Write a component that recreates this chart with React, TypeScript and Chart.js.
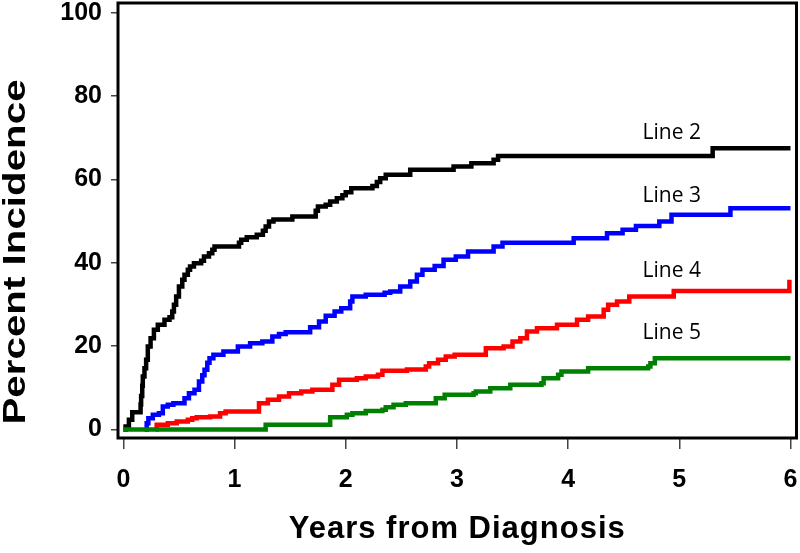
import React, { useEffect, useRef } from "react";
import { Chart, registerables } from "chart.js";

Chart.register(...registerables);

// Step events: time of jump (years) and new level (%)
const line2X = [0, 0.02, 0.05, 0.08, 0.155, 0.16, 0.17, 0.175, 0.19, 0.205, 0.22, 0.245, 0.275, 0.31, 0.37, 0.415, 0.44, 0.455, 0.475, 0.5, 0.53, 0.55, 0.58, 0.6, 0.635, 0.7, 0.725, 0.77, 0.8, 0.82, 1.04, 1.06, 1.11, 1.2, 1.255, 1.28, 1.31, 1.35, 1.52, 1.73, 1.75, 1.82, 1.86, 1.92, 1.97, 2.0, 2.05, 2.24, 2.28, 2.31, 2.36, 2.58, 2.97, 3.13, 3.33, 3.37, 5.3, 6.0];
const line2Y = [0, 0.7, 2.3, 4.1, 6, 8, 10.5, 12.7, 14.7, 16.7, 19.9, 21.9, 23.9, 25.1, 26.3, 26.9, 28.3, 29.9, 31.9, 34.3, 35.9, 37.1, 38.3, 39.1, 39.9, 40.5, 41.5, 42.3, 43.1, 43.9, 44.8, 45.5, 46.1, 46.7, 47.7, 48.7, 49.9, 50.4, 51.1, 52.5, 53.5, 53.9, 54.7, 55.5, 56.2, 56.9, 57.9, 58.4, 59.4, 60.3, 61.1, 62.3, 63.1, 63.9, 64.7, 65.6, 67.5, 67.5];

const line3X = [0.19, 0.21, 0.225, 0.265, 0.32, 0.355, 0.4, 0.45, 0.55, 0.59, 0.64, 0.68, 0.71, 0.73, 0.755, 0.775, 0.81, 0.9, 1.03, 1.14, 1.25, 1.34, 1.4, 1.46, 1.68, 1.76, 1.82, 1.9, 1.96, 2.04, 2.06, 2.18, 2.35, 2.4, 2.49, 2.58, 2.64, 2.69, 2.8, 2.88, 2.99, 3.1, 3.33, 3.41, 4.05, 4.35, 4.49, 4.61, 4.82, 4.93, 5.46, 6.0];
const line3Y = [0, 1.5, 2.7, 3.5, 3.9, 5.5, 5.9, 6.3, 7.5, 8.7, 9.5, 11.5, 13, 14.3, 16, 17.1, 17.9, 18.7, 19.9, 20.7, 21.1, 22.3, 22.9, 23.3, 24.5, 25.9, 27.3, 28.3, 29.1, 30.7, 31.9, 32.3, 32.8, 33.1, 34.3, 35.5, 37.1, 38.3, 39.2, 40.7, 41.5, 42.7, 43.9, 44.8, 45.9, 47.1, 47.9, 48.8, 49.9, 51.5, 53.1, 53.1];

const line4X = [0.29, 0.3, 0.4, 0.48, 0.58, 0.62, 0.66, 0.78, 0.87, 0.92, 1.22, 1.3, 1.4, 1.49, 1.6, 1.7, 1.88, 1.94, 2.1, 2.18, 2.29, 2.33, 2.55, 2.72, 2.75, 2.83, 2.9, 2.98, 3.26, 3.42, 3.5, 3.57, 3.63, 3.72, 3.9, 4.08, 4.18, 4.32, 4.36, 4.44, 4.55, 4.95, 5.99];
const line4Y = [0, 1.1, 1.5, 1.9, 2.3, 2.7, 2.9, 3.1, 3.9, 4.3, 6.3, 7.1, 7.9, 8.7, 9.1, 9.5, 10.7, 11.9, 12.3, 12.7, 13.1, 14.1, 14.4, 15.1, 15.9, 16.7, 17.5, 17.9, 19.5, 19.9, 21.1, 21.9, 23.5, 24.3, 25.1, 26.3, 27.1, 28.7, 29.9, 30.7, 31.9, 33.2, 35.9];

const line5X = [0, 1.28, 1.86, 2.01, 2.06, 2.18, 2.33, 2.36, 2.43, 2.54, 2.81, 2.89, 3.15, 3.17, 3.3, 3.48, 3.76, 3.78, 3.91, 3.94, 4.18, 4.72, 4.74, 4.78, 6.0];
const line5Y = [0, 1.1, 2.9, 3.5, 3.9, 4.4, 4.7, 5.3, 5.9, 6.3, 7.5, 8.3, 8.7, 9.1, 9.9, 10.7, 11.1, 12.3, 13.1, 13.9, 14.7, 15.1, 15.9, 17.1, 17.1];

const seriesNames = ["Line 2", "Line 3", "Line 4", "Line 5"];
const seriesColors = ["#000000", "#0000ff", "#ff0000", "#008000"];
const labelX = [4.67, 4.67, 4.67, 4.67];
const labelY = [69.7, 54.6, 36.6, 21.7];

const xTicks = [0, 1, 2, 3, 4, 5, 6];
const yTicks = [0, 20, 40, 60, 80, 100];
const xTitle = "Years from Diagnosis";
const yTitle = "Percent Incidence";

const seriesX = [line2X, line3X, line4X, line5X];
const seriesY = [line2Y, line3Y, line4Y, line5Y];

const decor = {
  id: "decor",
  afterDraw(chart: any) {
    const { ctx, chartArea: a, scales } = chart;
    ctx.save();
    ctx.strokeStyle = "#000";
    ctx.lineWidth = 3;
    ctx.strokeRect(a.left, a.top, a.right - a.left, a.bottom - a.top);

    ctx.fillStyle = "#000";
    ctx.font = '21px "Open Sans"';
    ctx.textAlign = "left";
    ctx.textBaseline = "alphabetic";
    seriesNames.forEach((n, i) => {
      ctx.fillText(n, scales.x.getPixelForValue(labelX[i]), scales.y.getPixelForValue(labelY[i]));
    });

    ctx.font = 'bold 31px "Liberation Sans"';
    ctx.textAlign = "center";
    (ctx as any).letterSpacing = "1px";
    ctx.fillText(xTitle, (a.left + a.right) / 2, a.bottom + 100);
    (ctx as any).letterSpacing = "0px";

    ctx.font = 'bold 32px "Liberation Sans"';
    ctx.translate(25, 252);
    ctx.rotate(-Math.PI / 2);
    ctx.scale(1.26, 1);
    ctx.fillText(yTitle, 0, 0);
    ctx.restore();
  },
};

export default function App() {
  const ref = useRef<HTMLCanvasElement | null>(null);
  useEffect(() => {
    if (!ref.current) return;
    const datasets = seriesNames.map((name, i) => ({
      label: name,
      data: seriesX[i].map((x, j) => ({ x, y: seriesY[i][j] })),
      borderColor: seriesColors[i],
      backgroundColor: seriesColors[i],
      borderWidth: 4.5,
      pointRadius: 0,
      stepped: "before" as const,
      fill: false,
      order: 3 - i,
    }));
    const tickFont = { family: '"Liberation Sans", Arial, sans-serif', size: 25, weight: "bold" as const };
    const chart = new Chart(ref.current, {
      type: "line",
      data: { datasets },
      plugins: [decor],
      options: {
        animation: false,
        responsive: false,
        devicePixelRatio: 1,
        layout: { padding: { left: 0, top: 3, right: 3.5, bottom: 0 } },
        plugins: { legend: { display: false }, tooltip: { enabled: false } },
        scales: {
          x: {
            type: "linear",
            min: -0.048,
            max: 6.054,
            afterBuildTicks: (s: any) => {
              s.ticks = xTicks.map((v) => ({ value: v }));
            },
            afterFit: (s: any) => {
              s.height = 115;
              s.paddingLeft = 0;
              s.paddingRight = 0;
            },
            border: { display: false },
            grid: { drawOnChartArea: false, drawTicks: true, tickLength: 11, color: "#444", lineWidth: 1.5 },
            ticks: { font: tickFont, color: "#000", padding: 16, maxRotation: 0, autoSkip: false },
          },
          y: {
            type: "linear",
            min: -2.06,
            max: 102.33,
            afterBuildTicks: (s: any) => {
              s.ticks = yTicks.map((v) => ({ value: v }));
            },
            afterFit: (s: any) => {
              s.width = 118;
              s.paddingTop = 0;
              s.paddingBottom = 0;
            },
            border: { display: false },
            grid: { drawOnChartArea: false, drawTicks: true, tickLength: 7, color: "#444", lineWidth: 1.5 },
            ticks: { font: tickFont, color: "#000", padding: 9, autoSkip: false },
          },
        },
      },
    });
    return () => chart.destroy();
  }, []);
  return (
    <div style={{ position: "fixed", left: 0, top: 0, width: 800, height: 553, background: "#fff" }}>
      <canvas ref={ref} width={800} height={553} style={{ width: 800, height: 553 }} />
    </div>
  );
}
